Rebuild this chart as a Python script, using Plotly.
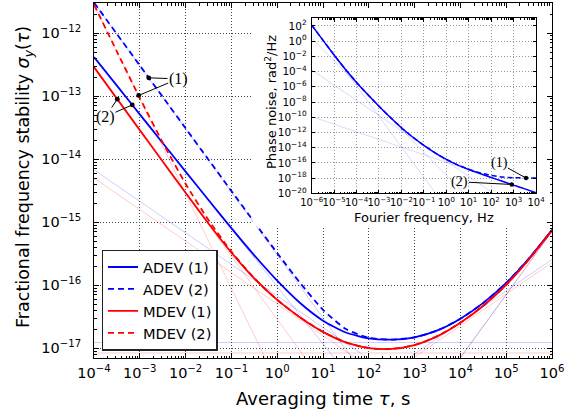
import plotly.graph_objects as go

# ---------------- main plot data ----------------
tau_s = [1e-4, 3.162e-4, 1e-3, 3.162e-3, 1e-2, 3.162e-2, 1e-1, 3.162e-1, 1.0, 3.162,
         10.0, 31.62, 100.0, 316.2, 1e3, 3162.0, 1e4, 3.162e4, 1e5, 3.162e5, 1e6]

adev_1 = [4.17e-13, 1.463e-13, 5.135e-14, 1.804e-14, 6.345e-15, 2.245e-15, 8.05e-16,
          2.976e-16, 1.177e-16, 5.21e-17, 2.735e-17, 1.775e-17, 1.434e-17, 1.367e-17,
          1.492e-17, 1.915e-17, 2.936e-17, 5.236e-17, 1.085e-16, 2.666e-16, 7.53e-16]
adev_2 = [3.05e-12, 9.66e-13, 3.063e-13, 9.72e-14, 3.086e-14, 9.81e-15, 3.125e-15,
          1.0e-15, 3.24e-16, 1.088e-16, 4.074e-17, 2.015e-17, 1.466e-17, 1.370e-17,
          1.492e-17, 1.915e-17, 2.936e-17, 5.236e-17, 1.085e-16, 2.666e-16, 7.53e-16]
mdev_1 = [2.885e-13, 9.124e-14, 2.888e-14, 9.163e-15, 2.927e-15, 9.546e-16, 3.292e-16,
          1.278e-16, 5.842e-17, 3.079e-17, 1.819e-17, 1.235e-17, 1.006e-17, 9.76e-18,
          1.123e-17, 1.557e-17, 2.541e-17, 4.721e-17, 1.016e-16, 2.584e-16, 7.441e-16]
mdev_2 = [2.833e-12, 5.092e-13, 9.366e-14, 1.831e-14, 4.063e-15, 1.078e-15, 3.41e-16,
          1.288e-16, 5.848e-17, 3.080e-17, 1.819e-17, 1.235e-17, 1.006e-17, 9.76e-18,
          1.123e-17, 1.557e-17, 2.541e-17, 4.721e-17, 1.016e-16, 2.584e-16, 7.441e-16]

# noise-type component lines, values at tau = 1e-4 s and 1e6 s
comp_tau = [1e-4, 1e6]
adev_wpm = [3.02e-12, 3.02e-22]
adev_fpm = [4.17e-13, 3.31e-22]
adev_wfm = [6.76e-15, 6.76e-20]
adev_ffm = [1.23e-17, 1.23e-17]
adev_rwfm = [2.57e-21, 2.57e-16]
adev_drift = [7.08e-26, 7.08e-16]
mdev_wpm = [2.82e-12, 2.82e-27]
mdev_fpm = [2.88e-13, 2.88e-23]
mdev_wfm = [5.01e-15, 5.01e-20]
mdev_ffm = [8.41e-18, 8.41e-18]
mdev_rwfm = [2.29e-21, 2.29e-16]
mdev_drift = [7.08e-26, 7.08e-16]

# tick labels
main_x_exp = [-4, -3, -2, -1, 0, 1, 2, 3, 4, 5, 6]
main_y_exp = [-17, -16, -15, -14, -13, -12]
inset_x_exp = [-6, -5, -4, -3, -2, -1, 0, 1, 2, 3, 4]
inset_y_exp = [2, 0, -2, -4, -6, -8, -10, -12, -14, -16, -18, -20]

# ---------------- inset data ----------------
freq_hz = [1e-6, 3.162e-6, 1e-5, 3.162e-5, 1e-4, 3.162e-4, 1e-3, 3.162e-3, 1e-2, 3.162e-2,
           1e-1, 3.162e-1, 1.0, 3.162, 10.0, 31.62, 100.0, 316.2, 1e3, 3162.0, 1e4]
pn_2 = [1.284e2, 1.338, 1.510e-2, 2.055e-4, 3.79e-6, 9.36e-8, 2.80e-9, 9.74e-11, 4.19e-12,
        2.49e-13, 2.03e-14, 2.12e-15, 2.89e-16, 5.46e-17, 1.37e-17, 3.97e-18, 1.22e-18,
        3.8e-19, 1.2e-19, 3.8e-20, 1.2e-20]
pn_1 = [1.284e2, 1.338, 1.510e-2, 2.055e-4, 3.79e-6, 9.36e-8, 2.80e-9, 9.74e-11, 4.19e-12,
        2.49e-13, 2.03e-14, 2.12e-15, 2.90e-16, 5.56e-17, 1.47e-17, 4.97e-18, 2.22e-18,
        1.38e-18, 1.12e-18, 1.038e-18, 1.012e-18]
comp_freq = [1e-6, 1e4]
pn_rwfm = [1.26e2, 1.26e-38]
pn_ffm = [2.51, 2.51e-30]
pn_wfm = [1.66e-4, 1.66e-24]
pn_fpm = [1.2e-10, 1.2e-20]

BLUE = "#0000ff"
RED = "#ff0000"
LBLUE = "rgba(0,0,255,0.2)"
LRED = "rgba(255,0,0,0.2)"
FONT = "DejaVu Sans"


def pow_label(e):
    s = str(e).replace("-", "\u2212")
    return "10<sup>" + s + "</sup>"


def minor_vals(lo, hi):
    return [m * 10.0 ** d for d in range(lo, hi) for m in range(2, 10)]


fig = go.Figure()

# light component lines (main)
for comp in [mdev_wpm, mdev_fpm, mdev_wfm, mdev_ffm, mdev_rwfm, mdev_drift]:
    fig.add_trace(go.Scatter(x=comp_tau, y=comp, mode="lines", showlegend=False,
                             hoverinfo="skip", line=dict(color=LRED, width=1)))
for comp in [adev_wpm, adev_fpm, adev_wfm, adev_ffm, adev_rwfm, adev_drift]:
    fig.add_trace(go.Scatter(x=comp_tau, y=comp, mode="lines", showlegend=False,
                             hoverinfo="skip", line=dict(color=LBLUE, width=1)))

# main curves
fig.add_trace(go.Scatter(x=tau_s, y=adev_1, mode="lines", name="ADEV (1)",
                         line=dict(color=BLUE, width=1.8, shape="spline", smoothing=0.6)))
fig.add_trace(go.Scatter(x=tau_s, y=adev_2, mode="lines", name="ADEV (2)",
                         line=dict(color=BLUE, width=1.8, dash="6px,4px", shape="spline", smoothing=0.6)))
fig.add_trace(go.Scatter(x=tau_s, y=mdev_1, mode="lines", name="MDEV (1)",
                         line=dict(color=RED, width=1.8, shape="spline", smoothing=0.6)))
fig.add_trace(go.Scatter(x=tau_s, y=mdev_2, mode="lines", name="MDEV (2)",
                         line=dict(color=RED, width=1.8, dash="6px,4px", shape="spline", smoothing=0.6)))

# white cover panel (empty subplot) behind the inset
fig.add_trace(go.Scatter(x=[], y=[], xaxis="x2", yaxis="y2", showlegend=False))

# inset traces
for comp in [pn_rwfm, pn_ffm, pn_wfm, pn_fpm]:
    fig.add_trace(go.Scatter(x=comp_freq, y=comp, mode="lines", xaxis="x3", yaxis="y3",
                             showlegend=False, hoverinfo="skip",
                             line=dict(color="rgba(0,0,255,0.15)", width=1)))
fig.add_trace(go.Scatter(x=freq_hz, y=pn_1, mode="lines", xaxis="x3", yaxis="y3", showlegend=False,
                         line=dict(color=BLUE, width=1.5, dash="5px,3px", shape="spline", smoothing=0.6)))
fig.add_trace(go.Scatter(x=freq_hz, y=pn_2, mode="lines", xaxis="x3", yaxis="y3", showlegend=False,
                         line=dict(color=BLUE, width=1.5, shape="spline", smoothing=0.6)))

GRID = dict(showgrid=True, gridcolor="#444", griddash="1px,2px", gridwidth=0.8)
IGRID = dict(showgrid=True, gridcolor="#999", griddash="1px,2px", gridwidth=0.7)
COMMON = dict(showline=True, linecolor="black", linewidth=1, mirror="ticks", ticks="inside",
              tickcolor="black", zeroline=False, automargin=False, tickmode="array", tickangle=0)

fig.update_layout(
    width=571, height=417, autosize=False,
    margin=dict(l=94, r=19, t=3, b=59, pad=0, autoexpand=False),
    paper_bgcolor="white", plot_bgcolor="white",
    showlegend=True,
    xaxis=dict(type="log", range=[-4, 6], domain=[0, 1],
               tickvals=[10.0 ** e for e in main_x_exp], ticktext=[pow_label(e) for e in main_x_exp],
               ticklen=5, tickfont=dict(family=FONT, size=14.5, color="black"), ticklabelstandoff=2,
               minor=dict(ticks="inside", ticklen=2.5, tickcolor="black", showgrid=False,
                          tickvals=minor_vals(-4, 6)),
               **COMMON, **GRID),
    yaxis=dict(type="log", range=[-17.155, -11.523], domain=[0, 1],
               tickvals=[10.0 ** e for e in main_y_exp], ticktext=[pow_label(e) for e in main_y_exp],
               ticklen=5, tickfont=dict(family=FONT, size=14.5, color="black"), ticklabelstandoff=9,
               minor=dict(ticks="inside", ticklen=2.5, tickcolor="black", showgrid=False,
                          tickvals=minor_vals(-18, -11)),
               **COMMON, **GRID),
    xaxis2=dict(domain=[0.347, 0.988], anchor="y2", visible=False, range=[0, 1]),
    yaxis2=dict(domain=[0.372, 0.9845], anchor="x2", visible=False, range=[0, 1]),
    xaxis3=dict(type="log", range=[-6, 4], domain=[0.4753, 0.9651], anchor="y3",
                tickvals=[10.0 ** e for e in inset_x_exp], ticktext=[pow_label(e) for e in inset_x_exp],
                ticklen=3.5, tickfont=dict(family=FONT, size=10, color="black"), ticklabelstandoff=0,
                minor=dict(ticks="inside", ticklen=1.8, tickcolor="black", showgrid=False,
                           tickvals=minor_vals(-6, 4)),
                **COMMON, **IGRID),
    yaxis3=dict(type="log", range=[-20, 3], domain=[0.4639, 0.9569], anchor="x3",
                tickvals=[10.0 ** e for e in inset_y_exp], ticktext=[pow_label(e) for e in inset_y_exp],
                ticklen=3.5, tickfont=dict(family=FONT, size=10.5, color="black"), ticklabelstandoff=2,
                **COMMON, **IGRID),
    legend=dict(x=0.0168, y=0.0206, xanchor="left", yanchor="bottom", bgcolor="white",
                bordercolor="#222", borderwidth=1.3, font=dict(family=FONT, size=14.6, color="black"),
                tracegroupgap=0),
)

ann = []
CEN = dict(showarrow=False, xanchor="center", yanchor="middle")
# axis titles
ann.append(dict(xref="paper", yref="paper", x=0.499, y=-0.1127, text="Averaging time <i>τ</i>, s",
                font=dict(family=FONT, size=18, color="black"), **CEN))
ann.append(dict(xref="paper", yref="paper", x=-0.1507, y=0.51, textangle=-90,
                text="Fractional frequency stability <i>σ<sub>y</sub></i>(<i>τ</i>)",
                font=dict(family=FONT, size=17.5, color="black"), **CEN))
ann.append(dict(xref="paper", yref="paper", x=0.7205, y=0.397, text="Fourier frequency, Hz",
                font=dict(family=FONT, size=13, color="black"), **CEN))
ann.append(dict(xref="paper", yref="paper", x=0.3865, y=0.721, textangle=-90,
                text="Phase noise, rad<sup>2</sup>/Hz",
                font=dict(family=FONT, size=13, color="black"), **CEN))

SERIF = dict(family="Liberation Serif", size=16, color="black")
# main plot labels (1), (2)
ann.append(dict(xref="x", yref="y", x=-2.166, y=-12.727, text="(1)", font=SERIF, **CEN))
ann.append(dict(xref="x", yref="y", x=-3.745, y=-13.324, text="(2)", font=SERIF, **CEN))
for (hx, hy, tx, ty) in [(-2.806, -12.71, -2.166, -12.727), (-3.024, -12.99, -2.166, -12.727),
                         (-3.491, -13.049, -3.745, -13.324), (-3.164, -13.14, -3.745, -13.324)]:
    ann.append(dict(xref="x", yref="y", axref="x", ayref="y", x=hx, y=hy, ax=tx, ay=ty, text="",
                    showarrow=True, arrowhead=6, arrowsize=1.2, arrowwidth=1, arrowcolor="black",
                    startstandoff=9))
# inset labels
SERIF2 = dict(family="Liberation Serif", size=14, color="black")
ann.append(dict(xref="x3", yref="y3", x=2.364, y=-16.06, text="(1)", font=SERIF2, **CEN))
ann.append(dict(xref="x3", yref="y3", x=0.58, y=-18.48, text="(2)", font=SERIF2, **CEN))
for (hx, hy, tx, ty) in [(3.554, -17.99, 2.364, -16.06), (2.917, -18.84, 0.58, -18.48)]:
    ann.append(dict(xref="x3", yref="y3", axref="x3", ayref="y3", x=hx, y=hy, ax=tx, ay=ty, text="",
                    showarrow=True, arrowhead=6, arrowsize=1.1, arrowwidth=1, arrowcolor="black",
                    startstandoff=8))
fig.update_layout(annotations=ann)

fig.write_html("out.html", config={"displayModeBar": False},
               post_script="document.body.style.margin='0';")
